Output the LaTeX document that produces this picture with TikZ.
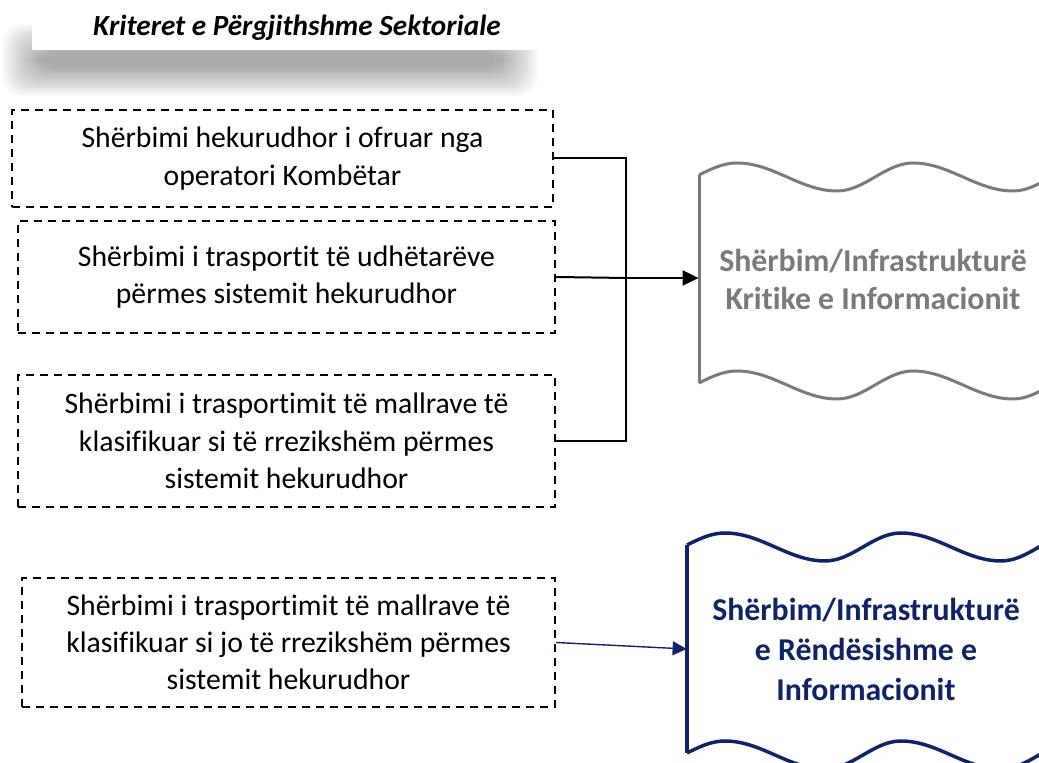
\documentclass[tikz,border=0pt]{standalone}
\usepackage{fontspec}
\setmainfont{Carlito}[Ligatures=NoCommon]
\usetikzlibrary{arrows.meta}
\definecolor{navy}{RGB}{14,36,102}
\definecolor{hiri}{RGB}{122,122,122}

\begin{document}
\begin{tikzpicture}[x=0.5pt,y=-0.5pt,
  kutia/.style={draw,dash pattern=on 4pt off 3pt,line width=1pt,align=center,inner sep=0pt,
    font=\fontsize{14.85}{18.6}\selectfont},
  dok/.style={align=center,inner sep=0pt,font=\bfseries\fontsize{15.9}{19}\selectfont}]
\useasboundingbox (0,0) rectangle (1039,763);
\clip (0,0) rectangle (1039,763);

\foreach \i in {0,...,19}
  \fill[black,opacity=0.02,rounded corners=10pt] (2+2*\i,24+1.5*\i) rectangle (538-2*\i,96-1.5*\i);
\fill[white] (32,0) rectangle (540,50);
\node[font=\bfseries\itshape\fontsize{14.6}{17}\selectfont] (T) at (297,28) {Kriteret e Përgjithshme Sektoriale};

\node[kutia,minimum width=270.5pt,minimum height=48.5pt] (B1) at (282.5,158.5)
  {Shërbimi hekurudhor i ofruar nga\\operatori Kombëtar};
\node[kutia,minimum width=268.5pt,minimum height=56pt] (B2) at (286.5,277)
  {Shërbimi i trasportit të udhëtarëve\\përmes sistemit hekurudhor};
\node[kutia,minimum width=268.5pt,minimum height=66pt] (B3) at (286.5,441)
  {Shërbimi i trasportimit të mallrave të\\klasifikuar si të rrezikshëm përmes\\sistemit hekurudhor};
\node[kutia,minimum width=266.5pt,minimum height=64.5pt] (B4) at (288.5,642.5)
  {Shërbimi i trasportimit të mallrave të\\klasifikuar si jo të rrezikshëm përmes\\sistemit hekurudhor};

\node[dok,text=hiri,minimum width=174pt] (K) at (873,279) {Shërbim/Infrastrukturë\\Kritike e Informacionit};
\node[dok,text=navy,minimum width=179pt,font=\bfseries\fontsize{15.9}{20}\selectfont] (R) at (866,649)
  {Shërbim/Infrastrukturë\\e Rëndësishme e\\Informacionit};

\foreach \sx/\sy/\ngj/\tr in {699/175/hiri/1.5pt,699/383/hiri/1.5pt,687/545/navy/1.75pt,687/753/navy/1.75pt}
  \draw[\ngj,line width=\tr,shift={(\sx,\sy)}] (0,0) sin (38,-12) cos (88,2) sin (138,16) cos (176,2)
    sin (214,-12) cos (264,2) sin (314,16) cos (352,2) sin (390,-12);
\draw[hiri,line width=1.5pt] (699,175) -- (699,383);
\draw[navy,line width=1.75pt] (687,545) -- (687,753);

\coordinate (J) at (626,278);
\draw[line width=1pt] (B1.east) -| (J) |- (B3.east);
\draw[line width=1pt] (B2.east) -- (J);
\draw[line width=1pt,-{Triangle[length=8pt,width=7.5pt]}] (J) -- (J -| K.west);
\draw[navy,line width=0.7pt,-{Triangle[length=7pt,width=7pt]}] (B4.east) -- (R.west);
\end{tikzpicture}
\end{document}
